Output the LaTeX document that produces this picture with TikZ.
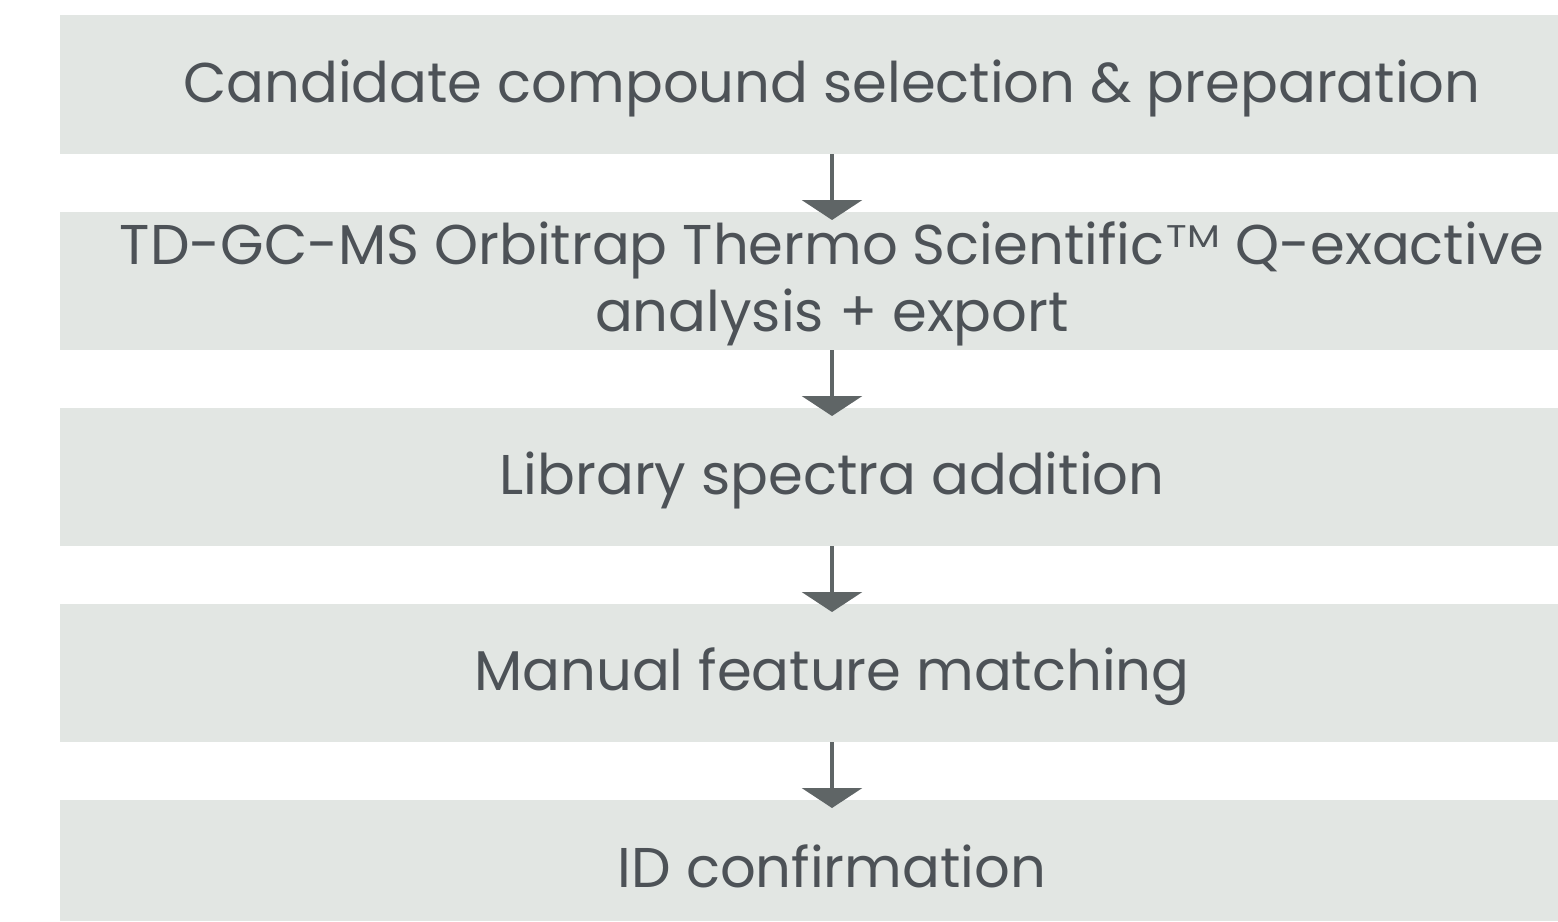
\documentclass[tikz,border=0pt]{standalone}
\usepackage{fontspec}
\setmainfont{Poppins}
\usetikzlibrary{arrows.meta}
\definecolor{boxfill}{HTML}{E2E6E3}
\definecolor{arrowcol}{HTML}{5F6566}
\definecolor{textcol}{HTML}{4D5257}
\newcommand{\tmmark}{\kern2pt\raisebox{17pt}{\scalebox{0.68}[0.56]{T\kern1pt M}}}
\tikzset{
  stepbox/.style={fill=boxfill, draw=none, minimum width=1498pt, inner sep=0pt, outer sep=0pt},
  steptext/.style={text=textcol, font=\fontsize{56}{64}\selectfont, anchor=base, inner sep=0pt, align=center},
  flowarrow/.style={draw=arrowcol, line width=4pt, -{Triangle[width=60pt,length=20pt]}, arrowcol, shorten >=0pt}
}
\begin{document}
\begin{tikzpicture}[x=1pt,y=-1pt]
\useasboundingbox (0,0) rectangle (1558,921);
\node[stepbox, minimum height=139pt] (b1) at (809,84.5) {};
\node[stepbox, minimum height=138pt] (b2) at (809,281) {};
\node[stepbox, minimum height=138pt] (b3) at (809,477) {};
\node[stepbox, minimum height=138pt] (b4) at (809,673) {};
\node[stepbox, minimum height=121pt] (b5) at (809,860.5) {};
\coordinate (ax) at (832,0);
\node[steptext] (t1) at (832,102) {Candidate compound selection \& preparation};
\node[steptext] (t2) at (832,264) {TD-GC-MS Orbitrap Thermo Scientific\tmmark{} Q-exactive};
\node[steptext] (t2b) at (832,331) {analysis + export};
\node[steptext] (t3) at (832,494) {Library spectra addition};
\node[steptext] (t4) at (832,690) {Manual feature matching};
\node[steptext] (t5) at (832,887) {ID confirmation};
\draw[flowarrow] (b1.south -| ax) -- ([yshift=-8pt]b2.north -| ax);
\draw[flowarrow] (b2.south -| ax) -- ([yshift=-8pt]b3.north -| ax);
\draw[flowarrow] (b3.south -| ax) -- ([yshift=-8pt]b4.north -| ax);
\draw[flowarrow] (b4.south -| ax) -- ([yshift=-8pt]b5.north -| ax);
\end{tikzpicture}
\end{document}
